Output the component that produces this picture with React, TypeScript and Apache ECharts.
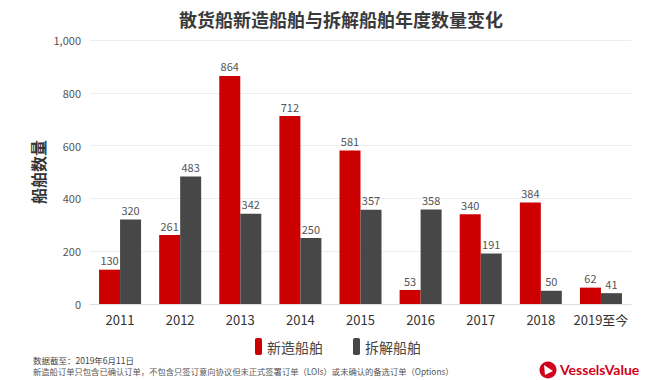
import React, { useEffect, useRef } from "react";
import * as echarts from "echarts";

const categories = ["2011", "2012", "2013", "2014", "2015", "2016", "2017", "2018", "2019至今"];
const newbuild = [130, 261, 864, 712, 581, 53, 340, 384, 62];
const demolition = [320, 483, 342, 250, 357, 358, 191, 50, 41];
const seriesNames = ["新造船舶", "拆解船舶"];
const title = "散货船新造船舶与拆解船舶年度数量变化";
const yName = "船舶数量";
const note1 = "数据截至：2019年6月11日";
const note2 = "新造船订单只包含已确认订单，不包含只签订意向协议但未正式签署订单（LOIs）或未确认的备选订单（Options）";

const RED = "#cc0000";
const DARK = "#474747";
const FONT = "'Noto Sans CJK SC', 'Noto Sans', sans-serif";

export default function App() {
  const ref = useRef<HTMLDivElement>(null);
  useEffect(() => {
    if (!ref.current) return;
    const chart = echarts.init(ref.current, null, { renderer: "svg" });
    const label = {
      show: true,
      position: "top",
      distance: 4,
      color: "#555",
      fontSize: 11,
      fontFamily: FONT,
    };
    chart.setOption({
      animation: false,
      backgroundColor: "#fff",
      textStyle: { fontFamily: FONT },
      title: {
        text: title,
        left: 336,
        textAlign: "center",
        top: 5,
        textStyle: { fontSize: 18, fontWeight: "bold", color: "#3a3a3a", fontFamily: FONT },
      },
      legend: {
        data: seriesNames,
        left: 250,
        top: 333,
        itemWidth: 7,
        itemHeight: 17,
        itemGap: 30,
        textStyle: { fontSize: 14, color: "#444", fontFamily: FONT },
      },
      grid: { left: 90, right: 39, top: 40, bottom: 76 },
      xAxis: {
        type: "category",
        data: categories,
        axisTick: { show: false },
        axisLine: { lineStyle: { color: "#ddd" } },
        axisLabel: { color: "#333", fontSize: 13, margin: 9, interval: 0, fontFamily: FONT },
      },
      yAxis: {
        type: "value",
        min: 0,
        max: 1000,
        interval: 200,
        name: yName,
        nameLocation: "middle",
        nameRotate: 90,
        nameGap: 44,
        nameMoveOverlap: false,
        nameTextStyle: { fontSize: 16, fontWeight: "bold", color: "#333", fontFamily: FONT },
        axisLine: { show: false },
        axisTick: { show: false },
        splitLine: { lineStyle: { color: "#eeeeee" } },
        axisLabel: {
          color: "#555",
          fontSize: 11,
          margin: 9,
          formatter: (v: number) => v.toLocaleString("en-US"),
        },
      },
      series: [
        {
          name: seriesNames[0],
          type: "bar",
          data: newbuild,
          barWidth: 21,
          barGap: "0%",
          itemStyle: { color: RED },
          label,
        },
        {
          name: seriesNames[1],
          type: "bar",
          data: demolition,
          barWidth: 21,
          barGap: "0%",
          itemStyle: { color: DARK },
          label,
        },
      ],
      graphic: [
        {
          type: "text",
          left: 33,
          top: 356,
          style: { text: note1, fontSize: 8.5, fill: "#444", fontFamily: FONT },
        },
        {
          type: "text",
          left: 33,
          top: 367,
          style: { text: note2, fontSize: 8.3, fill: "#555", fontFamily: FONT },
        },
        {
          type: "circle",
          shape: { cx: 548, cy: 370, r: 8.5 },
          style: { fill: "#d0021b" },
        },
        {
          type: "polygon",
          shape: { points: [[544, 365], [553, 371], [545, 375]] },
          style: { fill: "#fff" },
        },
        {
          type: "text",
          left: 560,
          top: 362,
          style: { text: "VesselsValue", fontSize: 14, fontWeight: "bold", fill: "#d0021b", fontFamily: "Lato, sans-serif" },
        },
      ],
    });
    return () => chart.dispose();
  }, []);
  return <div ref={ref} style={{ position: "fixed", left: 0, top: 0, width: 670, height: 380 }} />;
}
